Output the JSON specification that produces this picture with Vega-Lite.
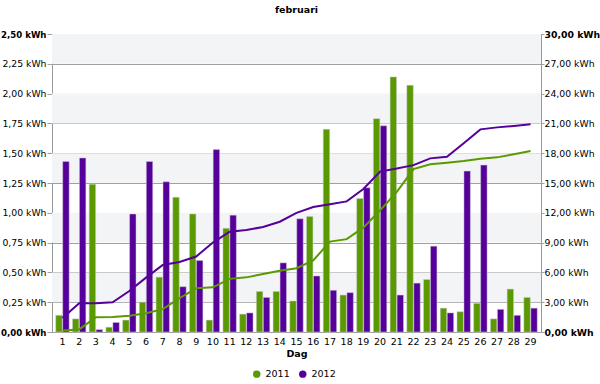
{
  "$schema": "https://vega.github.io/schema/vega-lite/v6.json",
  "autosize": {"type": "none"},
  "width": 489,
  "height": 298,
  "padding": {"left": 52, "top": 34, "right": 59, "bottom": 52},
  "background": "white",
  "title": {"text": "februari", "font": "DejaVu Sans", "fontSize": 9.5, "fontWeight": "bold", "color": "#000", "offset": 16},
  "config": {
    "view": {"stroke": "#999", "strokeWidth": 1},
    "font": "DejaVu Sans",
    "axis": {"labelFont": "DejaVu Sans", "labelFontSize": 9.3, "labelColor": "#000", "titleFont": "DejaVu Sans", "titleColor": "#000"}
  },
  "datasets": {
    "bands": [
      {"lo": 0.25, "hi": 0.5},
      {"lo": 0.75, "hi": 1.0},
      {"lo": 1.25, "hi": 1.5},
      {"lo": 1.75, "hi": 2.0},
      {"lo": 2.25, "hi": 2.5}
    ],
    "energy": [
      {"day": 1, "year": "2011", "kwh": 0.14, "cum": 0.15},
      {"day": 2, "year": "2011", "kwh": 0.11, "cum": 0.26},
      {"day": 3, "year": "2011", "kwh": 1.24, "cum": 1.49},
      {"day": 4, "year": "2011", "kwh": 0.04, "cum": 1.52},
      {"day": 5, "year": "2011", "kwh": 0.10, "cum": 1.63},
      {"day": 6, "year": "2011", "kwh": 0.25, "cum": 1.88},
      {"day": 7, "year": "2011", "kwh": 0.46, "cum": 2.30},
      {"day": 8, "year": "2011", "kwh": 1.13, "cum": 3.40},
      {"day": 9, "year": "2011", "kwh": 0.99, "cum": 4.40},
      {"day": 10, "year": "2011", "kwh": 0.10, "cum": 4.50},
      {"day": 11, "year": "2011", "kwh": 0.87, "cum": 5.35},
      {"day": 12, "year": "2011", "kwh": 0.15, "cum": 5.50},
      {"day": 13, "year": "2011", "kwh": 0.34, "cum": 5.84},
      {"day": 14, "year": "2011", "kwh": 0.34, "cum": 6.17},
      {"day": 15, "year": "2011", "kwh": 0.26, "cum": 6.42},
      {"day": 16, "year": "2011", "kwh": 0.97, "cum": 7.20},
      {"day": 17, "year": "2011", "kwh": 1.70, "cum": 9.10},
      {"day": 18, "year": "2011", "kwh": 0.31, "cum": 9.35},
      {"day": 19, "year": "2011", "kwh": 1.12, "cum": 10.50},
      {"day": 20, "year": "2011", "kwh": 1.79, "cum": 12.25},
      {"day": 21, "year": "2011", "kwh": 2.14, "cum": 14.10},
      {"day": 22, "year": "2011", "kwh": 2.07, "cum": 16.40},
      {"day": 23, "year": "2011", "kwh": 0.44, "cum": 16.88},
      {"day": 24, "year": "2011", "kwh": 0.20, "cum": 17.05},
      {"day": 25, "year": "2011", "kwh": 0.17, "cum": 17.22},
      {"day": 26, "year": "2011", "kwh": 0.24, "cum": 17.45},
      {"day": 27, "year": "2011", "kwh": 0.11, "cum": 17.58},
      {"day": 28, "year": "2011", "kwh": 0.36, "cum": 17.90},
      {"day": 29, "year": "2011", "kwh": 0.29, "cum": 18.22},
      {"day": 1, "year": "2012", "kwh": 1.43, "cum": 1.40},
      {"day": 2, "year": "2012", "kwh": 1.46, "cum": 2.89},
      {"day": 3, "year": "2012", "kwh": 0.02, "cum": 2.90},
      {"day": 4, "year": "2012", "kwh": 0.08, "cum": 2.99},
      {"day": 5, "year": "2012", "kwh": 0.99, "cum": 4.13},
      {"day": 6, "year": "2012", "kwh": 1.43, "cum": 5.47},
      {"day": 7, "year": "2012", "kwh": 1.26, "cum": 6.74},
      {"day": 8, "year": "2012", "kwh": 0.38, "cum": 7.05},
      {"day": 9, "year": "2012", "kwh": 0.60, "cum": 7.60},
      {"day": 10, "year": "2012", "kwh": 1.53, "cum": 9.00},
      {"day": 11, "year": "2012", "kwh": 0.98, "cum": 10.10},
      {"day": 12, "year": "2012", "kwh": 0.16, "cum": 10.27},
      {"day": 13, "year": "2012", "kwh": 0.29, "cum": 10.57},
      {"day": 14, "year": "2012", "kwh": 0.58, "cum": 11.10},
      {"day": 15, "year": "2012", "kwh": 0.95, "cum": 12.00},
      {"day": 16, "year": "2012", "kwh": 0.47, "cum": 12.58},
      {"day": 17, "year": "2012", "kwh": 0.35, "cum": 12.85},
      {"day": 18, "year": "2012", "kwh": 0.33, "cum": 13.15},
      {"day": 19, "year": "2012", "kwh": 1.21, "cum": 14.40},
      {"day": 20, "year": "2012", "kwh": 1.73, "cum": 16.15},
      {"day": 21, "year": "2012", "kwh": 0.31, "cum": 16.45},
      {"day": 22, "year": "2012", "kwh": 0.41, "cum": 16.80},
      {"day": 23, "year": "2012", "kwh": 0.72, "cum": 17.48},
      {"day": 24, "year": "2012", "kwh": 0.16, "cum": 17.65},
      {"day": 25, "year": "2012", "kwh": 1.35, "cum": 19.00},
      {"day": 26, "year": "2012", "kwh": 1.40, "cum": 20.40},
      {"day": 27, "year": "2012", "kwh": 0.19, "cum": 20.60},
      {"day": 28, "year": "2012", "kwh": 0.14, "cum": 20.75},
      {"day": 29, "year": "2012", "kwh": 0.20, "cum": 20.92}
    ]
  },
  "layer": [
    {
      "layer": [
        {
          "data": {"name": "bands"},
          "mark": {"type": "rect", "fill": "#f3f4f6"},
          "encoding": {
            "y": {
              "field": "lo", "type": "quantitative",
              "scale": {"domain": [0, 2.5], "nice": false},
              "axis": {
                "title": null,
                "values": [0, 0.25, 0.5, 0.75, 1, 1.25, 1.5, 1.75, 2, 2.25, 2.5],
                "labelExpr": "replace(format(datum.value, '.2f'), '.', ',') + ' kWh'",
                "labelFontWeight": {"condition": {"test": "datum.value == 0 || datum.value == 2.5", "value": "bold"}, "value": "normal"},
                "labelFontSize": {"condition": {"test": "datum.value == 0 || datum.value == 2.5", "value": 8.6}, "value": 9.3},
                "grid": true, "gridColor": "#a0a0a0", "gridWidth": 1,
                "domain": false, "tickColor": "#a0a0a0", "tickSize": 5, "labelPadding": 1
              }
            },
            "y2": {"field": "hi"}
          }
        },
        {
          "data": {"name": "energy"},
          "mark": {"type": "bar", "stroke": "#c8c8d0", "strokeWidth": 0.5},
          "encoding": {
            "x": {
              "field": "day", "type": "ordinal",
              "scale": {"paddingInner": 0.2, "paddingOuter": 0.225},
              "axis": {"title": "Dag", "labelAngle": 0, "ticks": false, "domain": false, "labelPadding": 4, "labelFontSize": 9.5, "titleFontWeight": "bold", "titleFontSize": 9.5, "titlePadding": 3}
            },
            "xOffset": {"field": "year", "type": "nominal", "scale": {"paddingInner": 0.08}},
            "y": {
              "field": "kwh", "type": "quantitative",
              "scale": {"domain": [0, 2.5], "nice": false},
              "axis": {
                "title": null,
                "values": [0, 0.25, 0.5, 0.75, 1, 1.25, 1.5, 1.75, 2, 2.25, 2.5],
                "labelExpr": "replace(format(datum.value, '.2f'), '.', ',') + ' kWh'",
                "labelFontWeight": {"condition": {"test": "datum.value == 0 || datum.value == 2.5", "value": "bold"}, "value": "normal"},
                "labelFontSize": {"condition": {"test": "datum.value == 0 || datum.value == 2.5", "value": 8.6}, "value": 9.3},
                "grid": true, "gridColor": "#a0a0a0", "gridWidth": 1,
                "domain": false, "tickColor": "#a0a0a0", "tickSize": 5, "labelPadding": 1
              }
            },
            "color": {
              "field": "year", "type": "nominal",
              "scale": {"domain": ["2011", "2012"], "range": ["#5a9a00", "#55009a"]},
              "legend": {
                "title": null, "orient": "none", "direction": "horizontal",
                "legendX": 200, "legendY": 335,
                "symbolType": "circle", "symbolSize": 55, "symbolStrokeWidth": 0,
                "labelFontSize": 9.5, "labelColor": "#000", "labelFont": "DejaVu Sans", "columnPadding": 8
              }
            }
          }
        }
      ]
    },
    {
      "data": {"name": "energy"},
      "mark": {"type": "line", "strokeWidth": 2},
      "encoding": {
        "x": {"field": "day", "type": "ordinal"},
        "y": {
          "field": "cum", "type": "quantitative",
          "scale": {"domain": [0, 30], "nice": false},
          "axis": {
            "orient": "right", "title": null,
            "values": [0, 3, 6, 9, 12, 15, 18, 21, 24, 27, 30],
            "labelExpr": "replace(format(datum.value, '.2f'), '.', ',') + ' kWh'",
            "labelFontWeight": {"condition": {"test": "datum.value == 0 || datum.value == 30", "value": "bold"}, "value": "normal"},
            "grid": false, "domain": false, "tickColor": "#a0a0a0", "tickSize": 3, "labelPadding": 0
          }
        },
        "color": {"field": "year", "type": "nominal", "legend": null}
      }
    }
  ],
  "resolve": {"scale": {"y": "independent"}}
}
